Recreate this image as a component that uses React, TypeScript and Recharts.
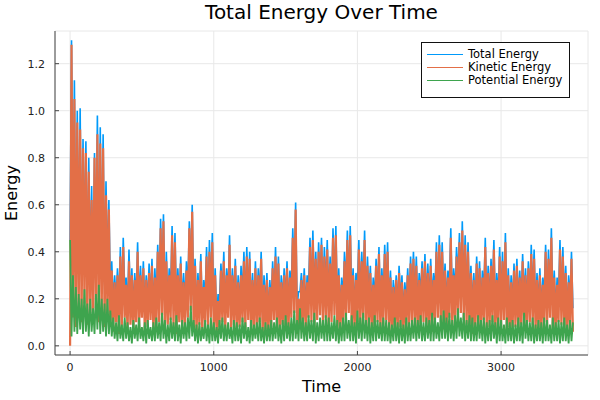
import { LineChart, Line, XAxis, YAxis, CartesianGrid } from "recharts";

// samples every 10 time units: "low" arrays at t = 0, 20, ..., 3500 and "high" arrays at t = 10, 30, ..., 3490
const STEP = 20;

const keHigh = [
  1.28, 1.05, 0.95, 0.92, 0.84, 0.82, 0.74, 0.62, 0.8, 0.9,
  0.86, 0.84, 0.64, 0.58, 0.32, 0.27, 0.3, 0.38, 0.42, 0.26,
  0.36, 0.3, 0.28, 0.4, 0.3, 0.33, 0.28, 0.31, 0.34, 0.29,
  0.4, 0.5, 0.53, 0.36, 0.3, 0.47, 0.44, 0.3, 0.35, 0.27,
  0.32, 0.5, 0.57, 0.34, 0.28, 0.36, 0.25, 0.38, 0.4, 0.44,
  0.3, 0.19, 0.32, 0.36, 0.3, 0.43, 0.3, 0.34, 0.27, 0.3,
  0.36, 0.38, 0.37, 0.28, 0.33, 0.3, 0.37, 0.26, 0.28, 0.25,
  0.33, 0.38, 0.35, 0.27, 0.3, 0.33, 0.29, 0.46, 0.58, 0.2,
  0.28, 0.3, 0.27, 0.42, 0.45, 0.37, 0.4, 0.43, 0.38, 0.41,
  0.35, 0.46, 0.47, 0.3, 0.26, 0.36, 0.45, 0.47, 0.3, 0.28,
  0.41, 0.36, 0.45, 0.34, 0.31, 0.26, 0.34, 0.39, 0.3, 0.39,
  0.4, 0.29, 0.25, 0.28, 0.31, 0.27, 0.24, 0.3, 0.35, 0.37,
  0.34, 0.28, 0.33, 0.36, 0.31, 0.34, 0.28, 0.4, 0.43, 0.4,
  0.32, 0.29, 0.46, 0.3, 0.38, 0.44, 0.49, 0.43, 0.4, 0.31,
  0.28, 0.35, 0.33, 0.29, 0.42, 0.31, 0.34, 0.41, 0.28, 0.38,
  0.36, 0.44, 0.3, 0.27, 0.32, 0.34, 0.29, 0.36, 0.3, 0.33,
  0.39, 0.37, 0.28, 0.3, 0.26, 0.4, 0.37, 0.46, 0.29, 0.26,
  0.41, 0.38, 0.31, 0.27, 0.37,
];

const keLow = [
  0.0, 0.12, 0.08, 0.15, 0.1, 0.18, 0.09, 0.14, 0.11, 0.16,
  0.1, 0.13, 0.08, 0.12, 0.09, 0.06, 0.1, 0.05, 0.08, 0.12,
  0.06, 0.09, 0.05, 0.1, 0.07, 0.12, 0.06, 0.08, 0.11, 0.05,
  0.07, 0.1, 0.13, 0.06, 0.09, 0.11, 0.08, 0.05, 0.1, 0.07,
  0.09, 0.12, 0.15, 0.07, 0.05, 0.09, 0.06, 0.1, 0.08, 0.12,
  0.06, 0.04, 0.08, 0.1, 0.06, 0.12, 0.07, 0.09, 0.05, 0.08,
  0.1, 0.07, 0.11, 0.05, 0.08, 0.06, 0.1, 0.05, 0.07, 0.04,
  0.08, 0.11, 0.06, 0.05, 0.09, 0.07, 0.06, 0.12, 0.14, 0.05,
  0.07, 0.09, 0.06, 0.12, 0.1, 0.08, 0.11, 0.13, 0.09, 0.12,
  0.08, 0.1, 0.13, 0.06, 0.05, 0.09, 0.11, 0.14, 0.07, 0.06,
  0.1, 0.08, 0.12, 0.07, 0.09, 0.05, 0.08, 0.1, 0.06, 0.09,
  0.11, 0.06, 0.05, 0.07, 0.06, 0.08, 0.05, 0.07, 0.09, 0.1,
  0.08, 0.06, 0.09, 0.1, 0.07, 0.08, 0.06, 0.11, 0.12, 0.1,
  0.07, 0.06, 0.12, 0.08, 0.1, 0.13, 0.14, 0.11, 0.09, 0.06,
  0.05, 0.08, 0.07, 0.06, 0.11, 0.07, 0.08, 0.1, 0.05, 0.09,
  0.08, 0.11, 0.06, 0.05, 0.07, 0.08, 0.06, 0.09, 0.07, 0.08,
  0.1, 0.09, 0.06, 0.07, 0.05, 0.1, 0.08, 0.12, 0.06, 0.05,
  0.1, 0.09, 0.07, 0.05, 0.08, 0.06,
];

const totalHigh = [
  1.3, 1.13, 1.0, 1.01, 0.88, 0.87, 0.8, 0.68, 0.82, 0.98,
  0.93, 0.9, 0.7, 0.62, 0.36, 0.3, 0.33, 0.42, 0.46, 0.29,
  0.41, 0.33, 0.31, 0.44, 0.34, 0.36, 0.3, 0.35, 0.37, 0.33,
  0.43, 0.54, 0.56, 0.4, 0.33, 0.51, 0.48, 0.33, 0.38, 0.31,
  0.36, 0.53, 0.6, 0.37, 0.31, 0.39, 0.28, 0.42, 0.45, 0.48,
  0.33, 0.22, 0.35, 0.4, 0.33, 0.47, 0.33, 0.37, 0.3, 0.34,
  0.4, 0.42, 0.4, 0.31, 0.36, 0.33, 0.4, 0.3, 0.31, 0.28,
  0.36, 0.42, 0.38, 0.3, 0.33, 0.36, 0.32, 0.5, 0.61, 0.23,
  0.31, 0.33, 0.3, 0.46, 0.49, 0.4, 0.44, 0.46, 0.42, 0.45,
  0.38, 0.5, 0.51, 0.33, 0.29, 0.4, 0.49, 0.51, 0.33, 0.31,
  0.45, 0.4, 0.49, 0.38, 0.34, 0.29, 0.37, 0.42, 0.33, 0.43,
  0.44, 0.32, 0.28, 0.3, 0.34, 0.3, 0.27, 0.33, 0.38, 0.4,
  0.38, 0.31, 0.36, 0.39, 0.35, 0.37, 0.31, 0.44, 0.47, 0.44,
  0.35, 0.32, 0.5, 0.33, 0.42, 0.48, 0.53, 0.47, 0.44, 0.34,
  0.31, 0.38, 0.36, 0.32, 0.46, 0.34, 0.37, 0.45, 0.31, 0.42,
  0.4, 0.48, 0.33, 0.3, 0.35, 0.37, 0.32, 0.39, 0.33, 0.36,
  0.43, 0.41, 0.31, 0.33, 0.29, 0.43, 0.41, 0.5, 0.32, 0.29,
  0.45, 0.42, 0.34, 0.3, 0.4,
];

const totalLow = [
  0.45, 0.42, 0.33, 0.37, 0.3, 0.42, 0.27, 0.34, 0.27, 0.38,
  0.36, 0.33, 0.26, 0.32, 0.24, 0.18, 0.2, 0.18, 0.17, 0.24,
  0.16, 0.17, 0.16, 0.19, 0.19, 0.2, 0.16, 0.19, 0.19, 0.15,
  0.19, 0.2, 0.27, 0.17, 0.18, 0.23, 0.18, 0.18, 0.19, 0.18,
  0.19, 0.24, 0.32, 0.18, 0.14, 0.19, 0.14, 0.21, 0.17, 0.24,
  0.16, 0.12, 0.19, 0.22, 0.15, 0.22, 0.15, 0.2, 0.15, 0.17,
  0.22, 0.17, 0.19, 0.16, 0.17, 0.16, 0.22, 0.13, 0.17, 0.13,
  0.19, 0.21, 0.18, 0.14, 0.2, 0.2, 0.16, 0.24, 0.29, 0.16,
  0.23, 0.21, 0.16, 0.25, 0.21, 0.22, 0.21, 0.25, 0.2, 0.25,
  0.2, 0.2, 0.26, 0.17, 0.15, 0.21, 0.25, 0.25, 0.2, 0.16,
  0.25, 0.2, 0.26, 0.18, 0.21, 0.15, 0.21, 0.21, 0.16, 0.21,
  0.22, 0.16, 0.14, 0.19, 0.16, 0.19, 0.14, 0.19, 0.19, 0.21,
  0.2, 0.17, 0.22, 0.2, 0.19, 0.19, 0.2, 0.23, 0.22, 0.23,
  0.22, 0.18, 0.26, 0.19, 0.23, 0.29, 0.26, 0.25, 0.2, 0.19,
  0.17, 0.18, 0.2, 0.17, 0.23, 0.17, 0.19, 0.23, 0.15, 0.21,
  0.19, 0.2, 0.18, 0.15, 0.18, 0.17, 0.18, 0.19, 0.21, 0.19,
  0.2, 0.21, 0.15, 0.18, 0.15, 0.22, 0.19, 0.21, 0.18, 0.15,
  0.21, 0.19, 0.19, 0.14, 0.19, 0.16,
];

// potential energy peaks where kinetic dips
const peHigh = [
  0.45, 0.3, 0.25, 0.22, 0.2, 0.24, 0.18, 0.2, 0.16, 0.22,
  0.26, 0.2, 0.18, 0.2, 0.15, 0.12, 0.1, 0.13, 0.09, 0.12,
  0.1, 0.08, 0.11, 0.09, 0.12, 0.08, 0.1, 0.11, 0.08, 0.1,
  0.12, 0.1, 0.14, 0.11, 0.09, 0.12, 0.1, 0.13, 0.09, 0.11,
  0.1, 0.12, 0.17, 0.11, 0.09, 0.1, 0.08, 0.11, 0.09, 0.12,
  0.1, 0.08, 0.11, 0.12, 0.09, 0.1, 0.08, 0.11, 0.1, 0.09,
  0.12, 0.1, 0.08, 0.11, 0.09, 0.1, 0.12, 0.08, 0.1, 0.09,
  0.11, 0.1, 0.12, 0.09, 0.11, 0.13, 0.1, 0.12, 0.15, 0.11,
  0.16, 0.12, 0.1, 0.13, 0.11, 0.14, 0.1, 0.12, 0.11, 0.13,
  0.12, 0.1, 0.13, 0.11, 0.1, 0.12, 0.14, 0.11, 0.13, 0.1,
  0.15, 0.12, 0.14, 0.11, 0.12, 0.1, 0.13, 0.11, 0.1, 0.12,
  0.11, 0.1, 0.09, 0.12, 0.1, 0.11, 0.09, 0.12, 0.1, 0.11,
  0.12, 0.11, 0.13, 0.1, 0.12, 0.11, 0.14, 0.12, 0.1, 0.13,
  0.15, 0.12, 0.14, 0.11, 0.13, 0.16, 0.12, 0.14, 0.11, 0.13,
  0.12, 0.1, 0.13, 0.11, 0.12, 0.1, 0.11, 0.13, 0.1, 0.12,
  0.11, 0.09, 0.12, 0.1, 0.11, 0.09, 0.12, 0.1, 0.14, 0.11,
  0.1, 0.12, 0.09, 0.11, 0.1, 0.12, 0.11, 0.09, 0.12, 0.1,
  0.11, 0.1, 0.12, 0.09, 0.11, 0.1,
];

const peLow = [
  0.04, 0.06, 0.05, 0.07, 0.05, 0.06, 0.04, 0.06, 0.05, 0.07,
  0.05, 0.06, 0.04, 0.05, 0.04, 0.03, 0.02, 0.03, 0.02, 0.03,
  0.02, 0.01, 0.03, 0.02, 0.03, 0.02, 0.01, 0.03, 0.02, 0.02,
  0.03, 0.02, 0.03, 0.01, 0.02, 0.03, 0.02, 0.02, 0.01, 0.03,
  0.02, 0.03, 0.04, 0.02, 0.01, 0.02, 0.03, 0.02, 0.01, 0.02,
  0.02, 0.01, 0.03, 0.02, 0.02, 0.03, 0.01, 0.02, 0.02, 0.01,
  0.03, 0.02, 0.01, 0.02, 0.03, 0.02, 0.02, 0.01, 0.02, 0.02,
  0.02, 0.03, 0.02, 0.01, 0.02, 0.03, 0.02, 0.02, 0.03, 0.02,
  0.03, 0.02, 0.02, 0.03, 0.02, 0.01, 0.02, 0.03, 0.02, 0.02,
  0.02, 0.03, 0.02, 0.01, 0.02, 0.02, 0.03, 0.02, 0.02, 0.01,
  0.03, 0.02, 0.03, 0.02, 0.01, 0.02, 0.02, 0.03, 0.02, 0.02,
  0.02, 0.01, 0.02, 0.02, 0.01, 0.02, 0.01, 0.02, 0.02, 0.03,
  0.02, 0.03, 0.02, 0.02, 0.03, 0.02, 0.02, 0.03, 0.02, 0.03,
  0.03, 0.02, 0.03, 0.02, 0.03, 0.04, 0.03, 0.02, 0.03, 0.02,
  0.02, 0.02, 0.03, 0.02, 0.01, 0.02, 0.02, 0.03, 0.01, 0.02,
  0.02, 0.01, 0.02, 0.02, 0.01, 0.02, 0.02, 0.01, 0.03, 0.02,
  0.02, 0.01, 0.02, 0.02, 0.01, 0.02, 0.02, 0.01, 0.02, 0.02,
  0.01, 0.02, 0.02, 0.01, 0.02,
];

const xTicks = [0, 1000, 2000, 3000];
const yTicks = [0, 0.2, 0.4, 0.6, 0.8, 1.0, 1.2];

const SERIES = [
  { key: "total", name: "Total Energy", color: "#009AFA", width: 1.6 },
  { key: "kinetic", name: "Kinetic Energy", color: "#E36F47", width: 2.2 },
  { key: "potential", name: "Potential Energy", color: "#3EA44E", width: 1.8 },
];

const rows: { t: number; total: number; kinetic: number; potential: number }[] = [];
keLow.forEach((_, i) => {
  rows.push({ t: i * STEP, total: totalLow[i], kinetic: keLow[i], potential: peHigh[i] });
  if (i < keHigh.length) {
    rows.push({ t: i * STEP + STEP / 2, total: totalHigh[i], kinetic: keHigh[i], potential: peLow[i] });
  }
});

const FONT = "'DejaVu Sans', sans-serif";

export default function App() {
  return (
    <div style={{ position: "absolute", left: 0, top: 0, width: 600, height: 400, background: "#fff", fontFamily: FONT }}>
      <LineChart width={600} height={400} data={rows} margin={{ top: 31, right: 12, bottom: 14, left: 0 }}>
        <CartesianGrid stroke="#e8e8e8" strokeWidth={1} />
        <XAxis
          dataKey="t"
          type="number"
          domain={[-105, 3605]}
          ticks={xTicks}
          height={31}
          stroke="#444"
          tickSize={-4}
          tickMargin={12}
          tick={{ fontSize: 11, fill: "#222", fontFamily: FONT }}
        />
        <YAxis
          type="number"
          domain={[-0.039, 1.339]}
          ticks={yTicks}
          width={55}
          stroke="#444"
          tickSize={-4}
          tickMargin={14}
          tickFormatter={(v: number) => v.toFixed(1)}
          tick={{ fontSize: 11, fill: "#222", fontFamily: FONT }}
        />
        {SERIES.map((s) => (
          <Line
            key={s.key}
            type="linear"
            dataKey={s.key}
            name={s.name}
            stroke={s.color}
            strokeWidth={s.width}
            strokeLinejoin="miter"
            strokeMiterlimit={2}
            dot={false}
            isAnimationActive={false}
          />
        ))}
      </LineChart>

      <div style={{ position: "absolute", left: 55, width: 533, top: 1.6, lineHeight: "20px", fontSize: 20, textAlign: "center", color: "#000" }}>
        Total Energy Over Time
      </div>
      <div style={{ position: "absolute", left: 55, width: 533, top: 378.5, lineHeight: "16px", fontSize: 16, textAlign: "center", color: "#000" }}>
        Time
      </div>
      <div
        style={{
          position: "absolute",
          left: -88.5,
          top: 185,
          width: 200,
          height: 16,
          lineHeight: "16px",
          fontSize: 16,
          textAlign: "center",
          transform: "rotate(-90deg)",
          color: "#000",
        }}
      >
        Energy
      </div>

      <div
        style={{
          position: "absolute",
          left: 421,
          top: 42,
          width: 147,
          height: 49,
          border: "1px solid #111",
          background: "#fff",
          paddingTop: 5,
          boxSizing: "content-box",
        }}
      >
        {SERIES.map((s) => (
          <div key={s.key} style={{ display: "flex", alignItems: "center", height: 13.2 }}>
            <div style={{ marginLeft: 5, width: 36, height: 0, borderTop: `1.5px solid ${s.color}` }} />
            <span style={{ marginLeft: 5, fontSize: 11.5, lineHeight: "13px", color: "#000", whiteSpace: "nowrap" }}>{s.name}</span>
          </div>
        ))}
      </div>
    </div>
  );
}
